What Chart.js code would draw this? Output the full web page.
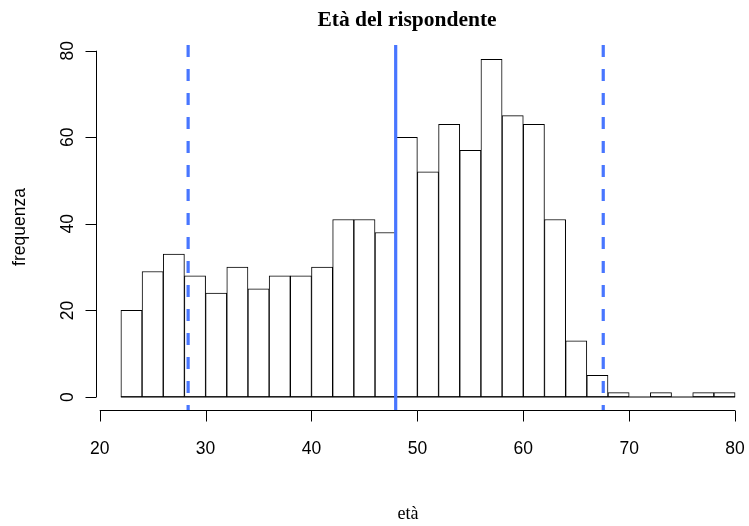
<!DOCTYPE html>
<html>
<head>
<meta charset="utf-8">
<script src="https://cdn.jsdelivr.net/npm/chart.js@4"></script>
<style>
  body { margin: 0; background: #fff; }
</style>
</head>
<body>
<canvas id="histChart" width="749" height="526"></canvas>
<script>
// bin edges (width 2) and counts
var breaks = [22, 24, 26, 28, 30, 32, 34, 36, 38, 40, 42, 44, 46, 48, 50, 52, 54, 56, 58, 60, 62, 64, 66, 68, 70, 72, 74, 76, 78, 80];
var counts = [20, 29, 33, 28, 24, 30, 25, 28, 28, 30, 41, 41, 38, 60, 52, 63, 57, 78, 65, 63, 41, 13, 5, 1, 0, 1, 0, 1, 1];
// mean and mean +/- sd
var solidLines = [47.95];
var dashedLines = [28.35, 67.55];
var xTicks = [20, 30, 40, 50, 60, 70, 80];
var yTicks = [0, 20, 40, 60, 80];

var Y_MIN = -3.0, Y_MAX = 81.32;
var lineColor = '#4876ff';

function vline(x, dash) {
  return {
    type: 'line',
    data: [{x: x, y: Y_MAX}, {x: x, y: Y_MIN}],
    borderColor: lineColor,
    borderWidth: 3.2,
    borderDash: dash,
    pointRadius: 0,
    fill: false
  };
}

var barData = [];
for (var i = 0; i < counts.length; i++) {
  barData.push({x: (breaks[i] + breaks[i + 1]) / 2, y: counts[i]});
}

var datasets = [{
  type: 'bar',
  data: barData,
  backgroundColor: '#ffffff',
  borderColor: '#000000',
  borderWidth: 1,
  borderSkipped: false,
  barPercentage: 1,
  categoryPercentage: 1,
  grouped: false,
  order: 2
}, {
  type: 'line',
  data: [{x: breaks[0], y: 0}, {x: breaks[breaks.length - 1], y: 0}],
  borderColor: '#000000',
  borderWidth: 1,
  pointRadius: 0,
  order: 1
}];
solidLines.forEach(function (v) { var d = vline(v, []); d.order = 0; datasets.push(d); });
dashedLines.forEach(function (v) { var d = vline(v, [12, 12]); d.order = 0; datasets.push(d); });

// R-like axes and titles
var rAxes = {
  id: 'rAxes',
  afterDraw: function (chart) {
    var ctx = chart.ctx;
    var xs = chart.scales.x, ys = chart.scales.y;
    var area = chart.chartArea;
    var tick = 11;
    ctx.save();
    ctx.strokeStyle = '#000';
    ctx.fillStyle = '#000';
    ctx.lineWidth = 1;

    // x axis
    var yAx = Math.round(area.bottom) + 0.5;
    ctx.beginPath();
    ctx.moveTo(xs.getPixelForValue(xTicks[0]), yAx);
    ctx.lineTo(xs.getPixelForValue(xTicks[xTicks.length - 1]), yAx);
    xTicks.forEach(function (t) {
      var px = Math.round(xs.getPixelForValue(t)) + 0.5;
      ctx.moveTo(px, yAx);
      ctx.lineTo(px, yAx + tick);
    });
    ctx.stroke();
    ctx.font = '17.5px "Liberation Sans", Arial, sans-serif';
    ctx.textAlign = 'center';
    ctx.textBaseline = 'middle';
    xTicks.forEach(function (t) {
      ctx.fillText(String(t), xs.getPixelForValue(t), 449);
    });

    // y axis
    var xAx = Math.round(area.left) + 0.5;
    ctx.beginPath();
    ctx.moveTo(xAx, ys.getPixelForValue(yTicks[0]));
    ctx.lineTo(xAx, ys.getPixelForValue(yTicks[yTicks.length - 1]));
    yTicks.forEach(function (t) {
      var py = Math.round(ys.getPixelForValue(t)) + 0.5;
      ctx.moveTo(xAx, py);
      ctx.lineTo(xAx - tick, py);
    });
    ctx.stroke();
    yTicks.forEach(function (t) {
      ctx.save();
      ctx.translate(68, ys.getPixelForValue(t));
      ctx.rotate(-Math.PI / 2);
      ctx.fillText(String(t), 0, 0);
      ctx.restore();
    });

    // axis titles
    ctx.save();
    ctx.translate(20, 227);
    ctx.rotate(-Math.PI / 2);
    ctx.fillText('frequenza', 0, 0);
    ctx.restore();

    ctx.font = '18px "Liberation Serif", "Times New Roman", serif';
    ctx.fillText('età', 408, 514);

    ctx.font = 'bold 21.5px "Liberation Serif", "Times New Roman", serif';
    ctx.fillText('Età del rispondente', 407, 20);
    ctx.restore();
  }
};

new Chart(document.getElementById('histChart'), {
  data: { datasets: datasets },
  options: {
    responsive: false,
    animation: false,
    layout: { padding: { left: 96, top: 45, right: 1, bottom: 116 } },
    plugins: { legend: { display: false }, tooltip: { enabled: false } },
    scales: {
      x: { type: 'linear', min: 19.65, max: 81.22, offset: false, display: false },
      y: { type: 'linear', min: Y_MIN, max: Y_MAX, display: false }
    }
  },
  plugins: [rAxes]
});
</script>
</body>
</html>
